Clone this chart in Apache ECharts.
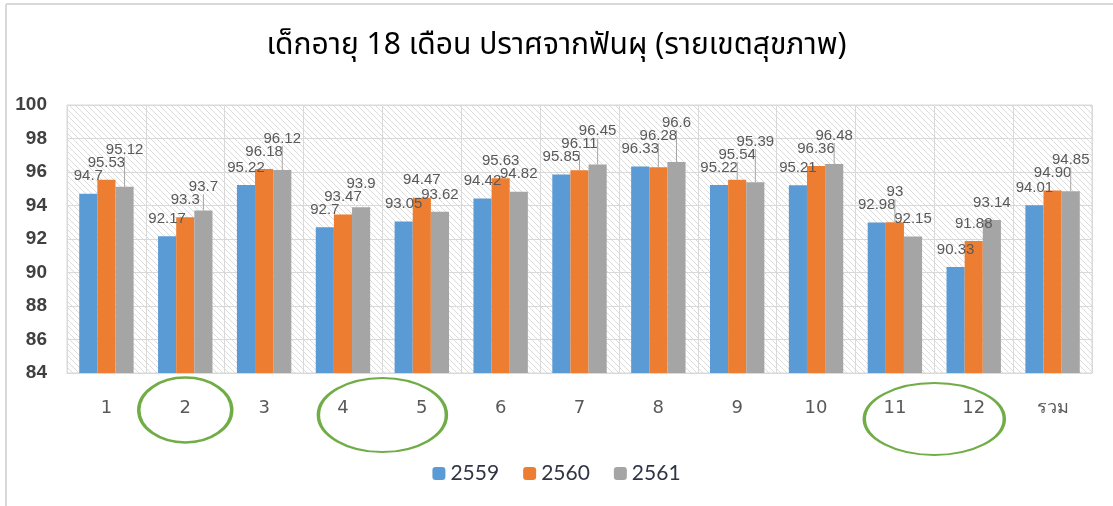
<!DOCTYPE html>
<html>
<head>
<meta charset="utf-8">
<script src="https://cdn.jsdelivr.net/npm/echarts@6/dist/echarts.min.js"></script>
<style>
  html, body { margin: 0; padding: 0; background: #fff; }
  #chart { width: 1113px; height: 506px; }
</style>
</head>
<body>
<div id="chart"></div>
<script>
// health regions 1-12 plus total
const categories = ['1', '2', '3', '4', '5', '6', '7', '8', '9', '10', '11', '12', 'รวม'];
const seriesNames = ['2559', '2560', '2561'];
// label text as shown in the picture (kept as strings so "94.90" stays)
const v2559 = ['94.7', '92.17', '95.22', '92.7', '93.05', '94.42', '95.85', '96.33', '95.22', '95.21', '92.98', '90.33', '94.01'];
const v2560 = ['95.53', '93.3', '96.18', '93.47', '94.47', '95.63', '96.11', '96.28', '95.54', '96.36', '93', '91.88', '94.90'];
const v2561 = ['95.12', '93.7', '96.12', '93.9', '93.62', '94.82', '96.45', '96.6', '95.39', '96.48', '92.15', '93.14', '94.85'];
const yTicks = [84, 86, 88, 90, 92, 94, 96, 98, 100];

const colors = ['#5b9bd5', '#ed7d31', '#a5a5a5'];
const allValues = [v2559, v2560, v2561];

// diagonal hatch used for the plot background
function hatch() {
  const c = document.createElement('canvas');
  c.width = 6; c.height = 6;
  const ctx = c.getContext('2d');
  ctx.strokeStyle = '#dcdcdc';
  ctx.lineWidth = 1;
  ctx.beginPath();
  ctx.moveTo(0, 0); ctx.lineTo(6, 6);
  ctx.moveTo(-1, 5); ctx.lineTo(1, 7);
  ctx.moveTo(5, -1); ctx.lineTo(7, 1);
  ctx.stroke();
  return c;
}

const chart = echarts.init(document.getElementById('chart'));
const numFont = "'Liberation Sans Narrow', 'Liberation Sans', Arial, sans-serif";
const labelSize = 15;
const labelGap = 10;

function barSeries(name, arr, i) {
  return {
    name: name,
    type: 'bar',
    data: arr.map(Number),
    barGap: '0%',
    barCategoryGap: '31%',
    itemStyle: { color: colors[i] },
    label: {
      show: true,
      position: 'top',
      distance: labelGap,
      color: '#595959',
      fontSize: labelSize,
      fontFamily: numFont,
      formatter: p => arr[p.dataIndex]
    }
  };
}

chart.setOption({
  animation: false,
  backgroundColor: '#fff',
  title: {
    text: 'เด็กอายุ 18 เดือน ปราศจากฟันผุ (รายเขตสุขภาพ)',
    left: 'center',
    top: 28,
    textStyle: { fontSize: 30, fontWeight: 'normal', color: '#000', fontFamily: "Tahoma, 'Noto Sans Thai', 'DejaVu Sans', sans-serif" }
  },
  legend: {
    data: seriesNames,
    top: 458,
    left: 'center',
    itemWidth: 13,
    itemHeight: 13,
    itemGap: 24,
    textStyle: { fontSize: 21, color: '#2f3545', fontFamily: "Lato, 'Liberation Sans', sans-serif" }
  },
  grid: {
    left: 67, right: 21, top: 105, bottom: 133,
    show: true,
    backgroundColor: { image: hatch(), repeat: 'repeat' },
    borderColor: '#d9d9d9',
    borderWidth: 1
  },
  xAxis: {
    type: 'category',
    data: categories,
    axisLine: { lineStyle: { color: '#d9d9d9' } },
    axisTick: { show: false },
    splitLine: { show: true, lineStyle: { color: '#d9d9d9' } },
    axisLabel: { color: '#595959', fontSize: 18, margin: 26, fontFamily: "'DejaVu Sans', Tahoma, sans-serif" }
  },
  yAxis: {
    type: 'value',
    min: yTicks[0],
    max: yTicks[yTicks.length - 1],
    interval: 2,
    axisLine: { show: false },
    axisTick: { show: false },
    splitLine: { lineStyle: { color: '#d9d9d9' } },
    axisLabel: { color: '#404040', fontSize: 19, fontWeight: 'bold', margin: 20, fontFamily: "'Liberation Sans', Arial, sans-serif" }
  },
  series: [
    barSeries(seriesNames[0], v2559, 0),
    barSeries(seriesNames[1], v2560, 1),
    barSeries(seriesNames[2], v2561, 2)
  ]
});

// lift labels that sit on top of a neighbour, Excel style, and draw a leader line
const measure = document.createElement('canvas').getContext('2d');
measure.font = labelSize + 'px ' + numFont;
const lineH = labelSize + 2;
const leaders = [];
const liftedSeries = allValues.map(() => []);
categories.forEach((c, di) => {
  const placed = [];
  allValues.forEach((arr, si) => {
    const lay = chart.getModel().getSeriesByIndex(si).getData().getItemLayout(di);
    const cx = lay.x + lay.width / 2;
    const top = Math.min(lay.y, lay.y + lay.height);
    const w = measure.measureText(arr[di]).width;
    const base = top - labelGap - lineH;
    let y = base;
    let moved = true;
    while (moved) {
      moved = false;
      for (const p of placed) {
        const ox = Math.min(cx + w / 2, p.x + p.w) - Math.max(cx - w / 2, p.x);
        const oy = Math.min(y + lineH, p.y + lineH) - Math.max(y, p.y);
        if (ox > 4 && oy > 4) { y = p.y - lineH + 4; moved = true; }
      }
    }
    placed.push({ x: cx - w / 2, y: y, w: w });
    liftedSeries[si].push(y - base);
    if (base - y > 6) {
      leaders.push({
        type: 'line',
        shape: { x1: cx, y1: top, x2: cx, y2: y + lineH },
        style: { stroke: '#a6a6a6', lineWidth: 1 },
        z: 50
      });
    }
  });
});

chart.setOption({
  series: allValues.map((arr, si) => ({
    data: arr.map((v, di) => ({ value: Number(v), label: { offset: [0, liftedSeries[si][di]] } }))
  }))
});

// frame of the chart box and the green hand-drawn rings under the x labels
function ring(fromCat, toCat, dy, w, h) {
  const x = (chart.convertToPixel({ xAxisIndex: 0 }, fromCat) + chart.convertToPixel({ xAxisIndex: 0 }, toCat)) / 2;
  const y = chart.convertToPixel({ yAxisIndex: 0 }, yTicks[0]) + dy;
  return {
    type: 'circle',
    shape: { cx: 0, cy: 0, r: w / 2 },
    x: x, y: y,
    scaleY: h / w,
    style: { fill: null, stroke: '#70ad47', lineWidth: 3.5, strokeNoScale: true },
    z: 100
  };
}

chart.setOption({
  graphic: [
    { type: 'line', shape: { x1: 6, y1: 4, x2: 1113, y2: 4 }, style: { stroke: '#d9d9d9', lineWidth: 2 } },
    { type: 'line', shape: { x1: 6, y1: 4, x2: 6, y2: 506 }, style: { stroke: '#d9d9d9', lineWidth: 2 } },
    ring('2', '2', 37, 93, 65),
    ring('4', '5', 42, 128, 74),
    ring('11', '12', 46, 140, 72)
  ].concat(leaders)
});
</script>
</body>
</html>
